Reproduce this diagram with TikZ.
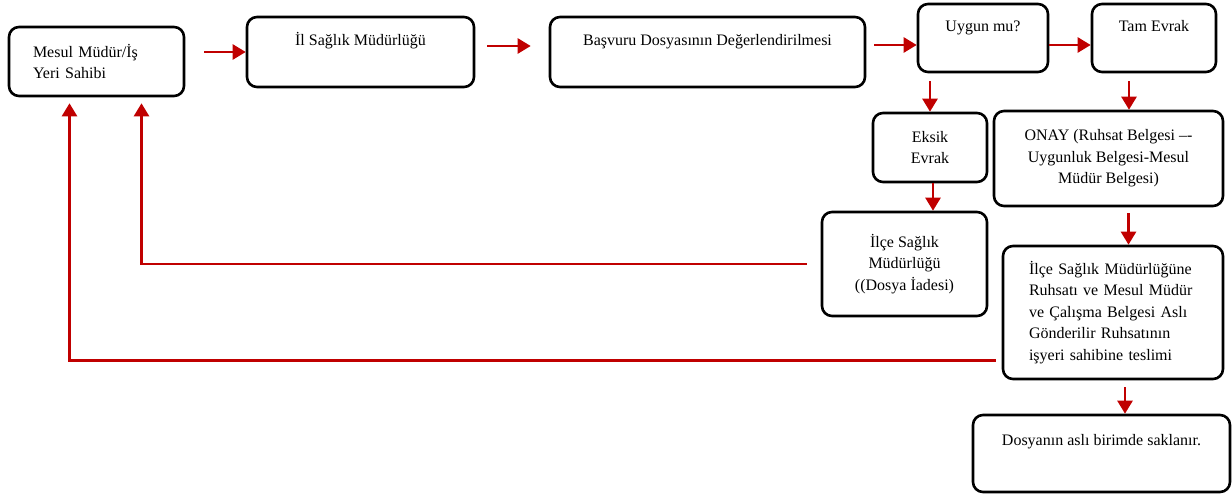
\documentclass[tikz,border=0pt]{standalone}
\usepackage{fontspec}
\setmainfont{Liberation Serif}
\usetikzlibrary{arrows.meta}
\definecolor{flowred}{HTML}{C00000}
\begin{document}
\begin{tikzpicture}[x=1pt,y=-1pt,
  box/.style={draw=black, line width=2.6pt, rounded corners=10pt, inner sep=0pt,
    font=\fontsize{16}{21.5}\selectfont},
  toptext/.style={text height=11pt, text depth=#1},
  flow/.style={draw=flowred, line width=2.5pt, -{Triangle[length=13pt,width=15pt]}},
]
\useasboundingbox (0,0) rectangle (1232,494);

% process boxes
\node[box, minimum width=175pt, minimum height=69pt, text width=127pt, align=left]
  (mesul) at (96.5,61.5) {Mesul Müdür/İş\\Yeri Sahibi};
\node[box, minimum width=227pt, minimum height=70pt, toptext=24pt]
  (il) at (360.5,52) {İl Sağlık Müdürlüğü};
\node[box, minimum width=315pt, minimum height=70pt, toptext=24pt]
  (bas) at (707.5,52) {Başvuru Dosyasının Değerlendirilmesi};
\node[box, minimum width=130pt, minimum height=68pt, toptext=24pt]
  (uyg) at (983,38) {Uygun mu?};
\node[box, minimum width=124pt, minimum height=68pt, toptext=24pt]
  (tam) at (1154,38) {Tam Evrak};
\node[box, minimum width=114pt, minimum height=69pt, align=center]
  (eks) at (930,147.5) {Eksik\\Evrak};
\node[box, minimum width=229pt, minimum height=95pt, align=center]
  (onay) at (1108.5,158.5) {ONAY (Ruhsat Belgesi –{}-\\Uygunluk Belgesi-Mesul\\Müdür Belgesi)};
\node[box, minimum width=165pt, minimum height=104pt, align=center]
  (ilce) at (904.5,264) {İlçe Sağlık\\Müdürlüğü\\((Dosya İadesi)};
\node[box, minimum width=220pt, minimum height=133pt, text width=168pt, align=left]
  (big) at (1113,312.5) {İlçe Sağlık Müdürlüğüne\\Ruhsatı ve Mesul Müdür\\ve Çalışma Belgesi Aslı\\Gönderilir Ruhsatının\\işyeri sahibine teslimi};
\node[box, minimum width=257pt, minimum height=77pt, toptext=27pt]
  (dos) at (1101.5,453.5) {Dosyanın aslı birimde saklanır.};

% forward flow
\draw[flow, shorten <=19pt] (mesul.east |- il.west) -- (il.west);
\draw[flow, shorten <=12pt, shorten >=18pt] ([yshift=6pt]il.east) -- ([yshift=6pt]bas.west);
\draw[flow, shorten <=8pt] ([yshift=7pt]bas.east) -- ([yshift=7pt]bas.east -| uyg.west);
\draw[flow] ([yshift=-7pt]uyg.east) -- ([yshift=-7pt]uyg.east -| tam.west);
\draw[flow, shorten <=8pt] (eks.north |- uyg.south) -- (eks.north);
\draw[flow, shorten <=8pt] ([xshift=-25pt]tam.south) -- ([xshift=-25pt]tam.south |- onay.north);
\draw[flow] ([xshift=3pt]eks.south) -- ([xshift=3pt]eks.south |- ilce.north);
\draw[flow, shorten <=6pt] ([xshift=20pt]onay.south) -- ([xshift=20pt]onay.south |- big.north);
\draw[flow, shorten <=7pt] ([xshift=12pt]big.south) -- ([xshift=12pt]big.south |- dos.north);

% return paths
\draw[flow, shorten <=14pt, shorten >=6pt] (ilce.west) -| ([xshift=45pt]mesul.south);
\draw[flow, shorten <=6pt, shorten >=6pt] ([yshift=-48pt]big.west) -| ([xshift=-27pt]mesul.south);
\end{tikzpicture}
\end{document}
